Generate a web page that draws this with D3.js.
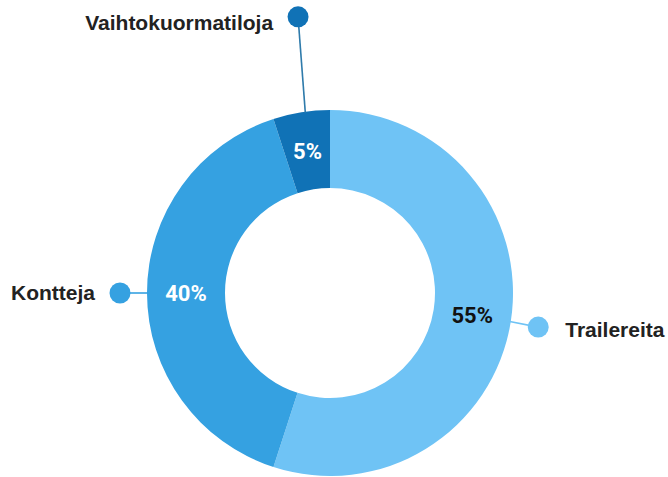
<!DOCTYPE html>
<html>
<head>
<meta charset="utf-8">
<script src="https://cdn.jsdelivr.net/npm/d3@7"></script>
<style>
  html, body { margin: 0; padding: 0; background: #ffffff; }
  svg { display: block; }
</style>
</head>
<body>
<svg id="chart" width="668" height="477"></svg>
<script>
// Cargo unit shares
const categories = ["Trailereita", "Kontteja", "Vaihtokuormatiloja"];
const shares = [55, 40, 5];
const sliceColors = ["#6fc3f5", "#35a1e1", "#1072b6"];
const valueTextColors = ["#111111", "#ffffff", "#ffffff"];

// Leader geometry per slice: dot distance from centre and angle tweak (degrees)
const leaderRadius = [211, 210, 278];
const leaderAngleShift = [0.3, 0, 2.4];
const leaderStartShift = [0, 0, 1.2];
const labelSide = ["right", "left", "left"];
const labelDy = [3, 0, 6];

const width = 668, height = 477;
const cx = 330, cy = 293;
const outerR = 183, innerR = 105;

const svg = d3.select("#chart");
const g = svg.append("g").attr("transform", `translate(${cx},${cy})`);

const data = categories.map((c, i) => ({ name: c, value: shares[i], i }));

const pie = d3.pie().value(d => d.value).sort(null);
const arc = d3.arc().innerRadius(innerR).outerRadius(outerR);
const arcs = pie(data);

g.selectAll("path.slice")
  .data(arcs)
  .join("path")
  .attr("class", "slice")
  .attr("d", arc)
  .attr("fill", d => sliceColors[d.data.i]);

// percentage labels at the slice centroids
g.selectAll("text.value")
  .data(arcs)
  .join("text")
  .attr("class", "value")
  .attr("transform", d => `translate(${arc.centroid(d)})`)
  .attr("text-anchor", "middle")
  .attr("dy", "0.36em")
  .attr("font-family", "Roboto, 'Open Sans', sans-serif")
  .attr("font-weight", 700)
  .attr("font-size", 22)
  .attr("fill", d => valueTextColors[d.data.i])
  .text(d => d.data.value + "%");

// leaders, dots and category names
const polar = (r, a) => [r * Math.sin(a), -r * Math.cos(a)];
const rad = deg => deg * Math.PI / 180;

arcs.forEach(d => {
  const i = d.data.i;
  const mid = (d.startAngle + d.endAngle) / 2;
  const start = polar(outerR - 1, mid + rad(leaderStartShift[i]));
  const dot = polar(leaderRadius[i], mid + rad(leaderAngleShift[i]));
  const color = sliceColors[i];

  g.append("line")
    .attr("x1", start[0]).attr("y1", start[1])
    .attr("x2", dot[0]).attr("y2", dot[1])
    .attr("stroke", i === 2 ? "#2f7bab" : color)
    .attr("stroke-width", 1.6);

  g.append("circle")
    .attr("cx", dot[0]).attr("cy", dot[1])
    .attr("r", 10.5)
    .attr("fill", color);

  const right = labelSide[i] === "right";
  g.append("text")
    .attr("x", dot[0] + (right ? 27 : -25))
    .attr("y", dot[1] + labelDy[i])
    .attr("dy", "0.35em")
    .attr("text-anchor", right ? "start" : "end")
    .attr("font-family", "'Liberation Sans', Arial, sans-serif")
    .attr("font-weight", 700)
    .attr("font-size", 21)
    .attr("fill", "#222222")
    .text(d.data.name);
});
</script>
</body>
</html>
